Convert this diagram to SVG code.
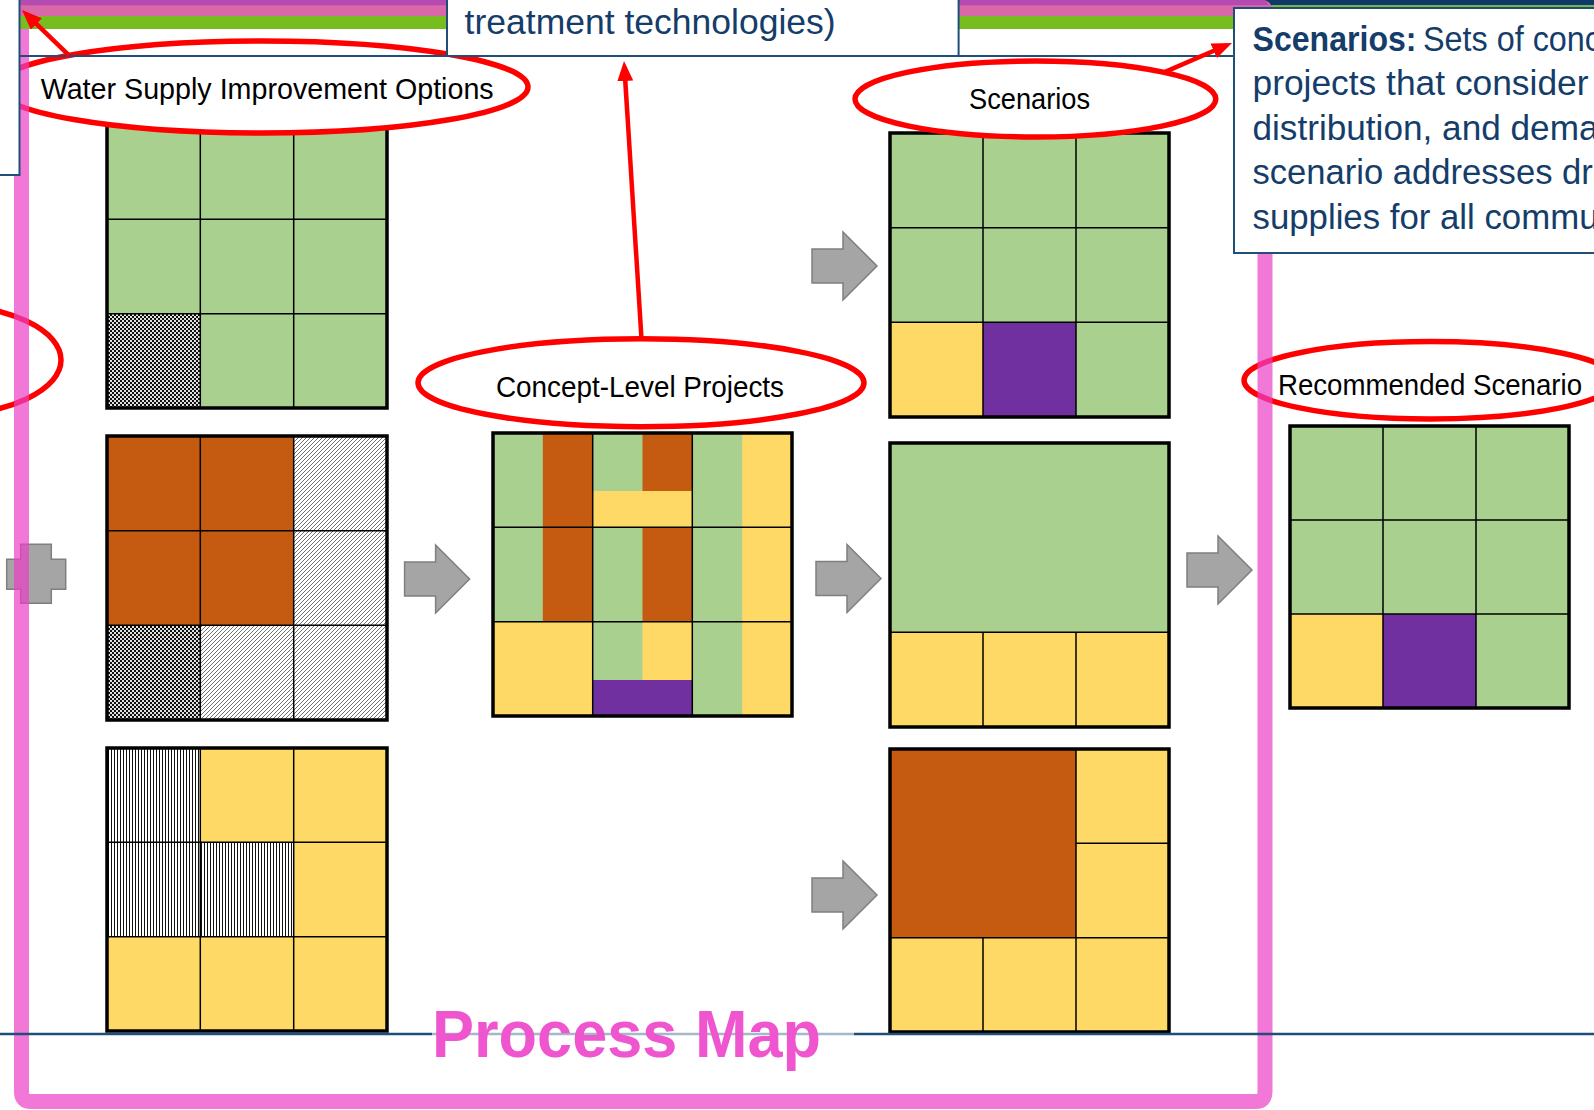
<svg xmlns="http://www.w3.org/2000/svg" width="1594" height="1110" viewBox="0 0 1594 1110">
<style>
.g{fill:#A9D08E}.o{fill:#C55A11}.y{fill:#FFD966}.p{fill:#7030A0}
.ck{fill:url(#checker)}.dg{fill:url(#diag)}.vt{fill:url(#vert)}
.in{stroke:#000;stroke-width:1.5;fill:none}
.out{fill:none;stroke:#000;stroke-width:3.5}
.blk{fill:#A5A5A5;stroke:#7F7F7F;stroke-width:1.5}
.ring{fill:#fff;stroke:#FF0000;stroke-width:5.5}
.lbl{font-family:"Liberation Sans",Arial,sans-serif;font-size:30px;fill:#000}
.note{font-family:"Liberation Sans",Arial,sans-serif;font-size:35.5px;fill:#153D6A}
.box{fill:#fff;stroke:#1F4E79;stroke-width:2}
.rule{stroke:#1F4E79;stroke-width:2;fill:none}
.callout{stroke:#FF0000;stroke-width:4.5;fill:none;marker-end:url(#head)}
</style>
<defs>
<pattern id="checker" width="4" height="4" patternUnits="userSpaceOnUse">
<rect width="4" height="4" fill="#E0E0E0"/><rect width="2" height="2" fill="#111"/><rect x="2" y="2" width="2" height="2" fill="#111"/>
</pattern>
<pattern id="diag" width="4" height="4" patternUnits="userSpaceOnUse">
<rect width="4" height="4" fill="#fff"/><path d="M-1,1 L1,-1 M0,4 L4,0 M3,5 L5,3" stroke="#333" stroke-width="0.7"/>
</pattern>
<pattern id="vert" width="3" height="3" patternUnits="userSpaceOnUse">
<rect width="3" height="3" fill="#fff"/><rect width="1" height="3" fill="#111"/>
</pattern>
<path id="block" d="M0,-17 H31 V-34 L65,0 L31,34 V17 H0 Z"/>
<marker id="head" viewBox="0 0 10 8" refX="7" refY="4" markerWidth="20" markerHeight="16" markerUnits="userSpaceOnUse" orient="auto">
<path d="M0,0 L10,4 L0,8 Z" fill="#FF0000"/>
</marker>
</defs>

<!-- water supply option grids -->
<g id="option-a">
<rect class="g" x="107" y="125" width="280" height="283"/>
<rect class="ck" x="107" y="313.7" width="93.3" height="94.3"/>
<path class="in" d="M200.3,125V408M293.7,125V408M107,219.3H387M107,313.7H387"/>
<rect class="out" x="107" y="125" width="280" height="283"/>
</g>
<g id="option-b">
<rect class="o" x="107" y="436" width="186.7" height="189.3"/>
<rect class="dg" x="293.7" y="436" width="93.3" height="189.3"/>
<rect class="ck" x="107" y="625.3" width="93.3" height="94.7"/>
<rect class="dg" x="200.3" y="625.3" width="186.7" height="94.7"/>
<path class="in" d="M200.3,436V720M293.7,436V720M107,530.7H387M107,625.3H387"/>
<rect class="out" x="107" y="436" width="280" height="284"/>
</g>
<g id="option-c">
<rect class="y" x="107" y="748" width="280" height="283"/>
<rect class="vt" x="107" y="748" width="93.3" height="94.3"/>
<rect class="vt" x="107" y="842.3" width="186.7" height="94.4"/>
<path class="in" d="M200.3,748V1031M293.7,748V1031M107,842.3H387M107,936.7H387"/>
<rect class="out" x="107" y="748" width="280" height="283"/>
</g>

<!-- concept-level projects grid -->
<g id="concept-projects">
<rect class="g" x="493" y="433" width="299" height="283"/>
<rect class="o" x="542.8" y="433" width="49.9" height="188.7"/>
<rect class="y" x="493" y="621.7" width="99.7" height="94.3"/>
<rect class="o" x="642.5" y="433" width="49.8" height="58"/>
<rect class="y" x="592.7" y="491" width="99.6" height="36.3"/>
<rect class="o" x="642.5" y="527.3" width="49.8" height="94.4"/>
<rect class="y" x="642.5" y="621.7" width="49.8" height="58.3"/>
<rect class="p" x="592.7" y="680" width="99.6" height="36"/>
<rect class="y" x="742.2" y="433" width="49.8" height="283"/>
<path class="in" d="M592.7,433V716M692.3,433V716M493,527.3H792M493,621.7H792"/>
<rect class="out" x="493" y="433" width="299" height="283"/>
</g>

<!-- scenario grids -->
<g id="scenario-1">
<rect class="g" x="890" y="133" width="279" height="284"/>
<rect class="y" x="890" y="322.3" width="93" height="94.7"/>
<rect class="p" x="983" y="322.3" width="93" height="94.7"/>
<path class="in" d="M983,133V417M1076,133V417M890,227.7H1169M890,322.3H1169"/>
<rect class="out" x="890" y="133" width="279" height="284"/>
</g>
<g id="scenario-2">
<rect class="g" x="890" y="443" width="279" height="189.3"/>
<rect class="y" x="890" y="632.3" width="279" height="94.7"/>
<path class="in" d="M890,632.3H1169M983,632.3V727M1076,632.3V727"/>
<rect class="out" x="890" y="443" width="279" height="284"/>
</g>
<g id="scenario-3">
<rect class="y" x="890" y="749" width="279" height="283"/>
<rect class="o" x="890" y="749" width="186" height="188.7"/>
<path class="in" d="M1076,749V1032M983,937.7V1032M890,937.7H1169M1076,843.3H1169"/>
<rect class="out" x="890" y="749" width="279" height="283"/>
</g>

<!-- recommended scenario grid -->
<g id="recommended">
<rect class="g" x="1290" y="426" width="279" height="282"/>
<rect class="y" x="1290" y="614" width="93" height="94"/>
<rect class="p" x="1383" y="614" width="93" height="94"/>
<path class="in" d="M1383,426V708M1476,426V708M1290,520H1569M1290,614H1569"/>
<rect class="out" x="1290" y="426" width="279" height="282"/>
</g>

<!-- process flow arrows -->
<g id="connectors">
<path class="blk" d="M6.7,559.3H20.7V544.3H51.3V559.3H65.7V589.3H51.3V603.3H20.7V589.3H6.7Z"/>
<use href="#block" class="blk" x="404.6" y="579"/>
<use href="#block" class="blk" x="812" y="266"/>
<use href="#block" class="blk" x="816" y="578.5"/>
<use href="#block" class="blk" x="812" y="895"/>
<use href="#block" class="blk" x="1187" y="570"/>
</g>

<!-- stage labels -->
<g id="label-options">
<ellipse class="ring" cx="262" cy="87" rx="266" ry="46"/>
<text class="lbl" x="40.7" y="98.6" textLength="453" lengthAdjust="spacingAndGlyphs">Water Supply Improvement Options</text>
</g>
<g id="label-left">
<ellipse class="ring" cx="-57" cy="360" rx="118" ry="55"/>
</g>
<g id="label-concept">
<ellipse class="ring" cx="641" cy="382.7" rx="223" ry="44"/>
<text class="lbl" x="496" y="396.5" textLength="288" lengthAdjust="spacingAndGlyphs">Concept-Level Projects</text>
</g>
<g id="label-scenarios">
<ellipse class="ring" cx="1035.4" cy="99" rx="180.4" ry="38"/>
<text class="lbl" x="969" y="108.8" textLength="121" lengthAdjust="spacingAndGlyphs">Scenarios</text>
</g>
<g id="label-recommended">
<ellipse class="ring" cx="1430" cy="380.3" rx="186" ry="38.7"/>
<text class="lbl" x="1278" y="395" textLength="304" lengthAdjust="spacingAndGlyphs">Recommended Scenario</text>
</g>

<!-- process map frame -->
<path id="frame" d="M21.5,0V1092Q21.5,1101.5 31,1101.5H1255.5Q1265,1101.5 1265,1092V0" fill="none" stroke="#EC3EC6" stroke-width="15" stroke-opacity="0.7"/>

<!-- slide header bands -->
<g id="header">
<rect x="1250" y="0" width="344" height="5.5" fill="#0F3A68"/>
<rect x="1250" y="5.5" width="344" height="2" fill="#78BD20"/>
<path d="M20,0H1263A9,9 0 0 1 1272,9V16H20Z" fill="#D868A8"/>
<path d="M20,0H1263A6,6 0 0 1 1268,5.3H20Z" fill="#B54AB0"/>
<rect x="20" y="16" width="1252" height="13" fill="#78BD20"/>
</g>
<line class="rule" x1="20" y1="56" x2="1234" y2="56"/>

<!-- text boxes -->
<g id="box-left">
<rect class="box" x="-10" y="-10" width="29.5" height="185"/>
</g>
<g id="box-treatment">
<rect class="box" x="447" y="-10" width="511.6" height="66"/>
<text class="note" x="464.6" y="34" textLength="371" lengthAdjust="spacingAndGlyphs">treatment technologies)</text>
</g>
<g id="box-scenarios">
<rect class="box" x="1234" y="8" width="400" height="245"/>
<text class="note" y="50.5"><tspan x="1252.5" font-weight="bold" textLength="164" lengthAdjust="spacingAndGlyphs">Scenarios:</tspan><tspan x="1423" textLength="178" lengthAdjust="spacingAndGlyphs">Sets of conc</tspan></text>
<text class="note" x="1252.5" y="95" textLength="336" lengthAdjust="spacingAndGlyphs">projects that consider</text>
<text class="note" x="1252.5" y="139.5" textLength="346" lengthAdjust="spacingAndGlyphs">distribution, and dema</text>
<text class="note" x="1252.5" y="184" textLength="348" lengthAdjust="spacingAndGlyphs">scenario addresses dri</text>
<text class="note" x="1252.5" y="228.5" textLength="346" lengthAdjust="spacingAndGlyphs">supplies for all commu</text>
</g>

<!-- callout pointers -->
<g id="callouts">
<line class="callout" x1="69" y1="55.3" x2="26.3" y2="14.2"/>
<line class="callout" x1="641.5" y1="338.7" x2="624.4" y2="67"/>
<line class="callout" x1="1164" y1="72.4" x2="1226.5" y2="45.3"/>
</g>

<!-- footer rule and title -->
<line x1="0" y1="1034" x2="1594" y2="1034" stroke="#1F4E79" stroke-width="2.5"/>
<g id="title">
<rect x="432" y="990" width="422" height="80" fill="#fff" fill-opacity="0.6"/>
<text x="432" y="1057" font-family="'Liberation Sans',Arial,sans-serif" font-weight="bold" font-size="66" fill="#EE55CF" textLength="389" lengthAdjust="spacingAndGlyphs">Process Map</text>
</g>
</svg>
